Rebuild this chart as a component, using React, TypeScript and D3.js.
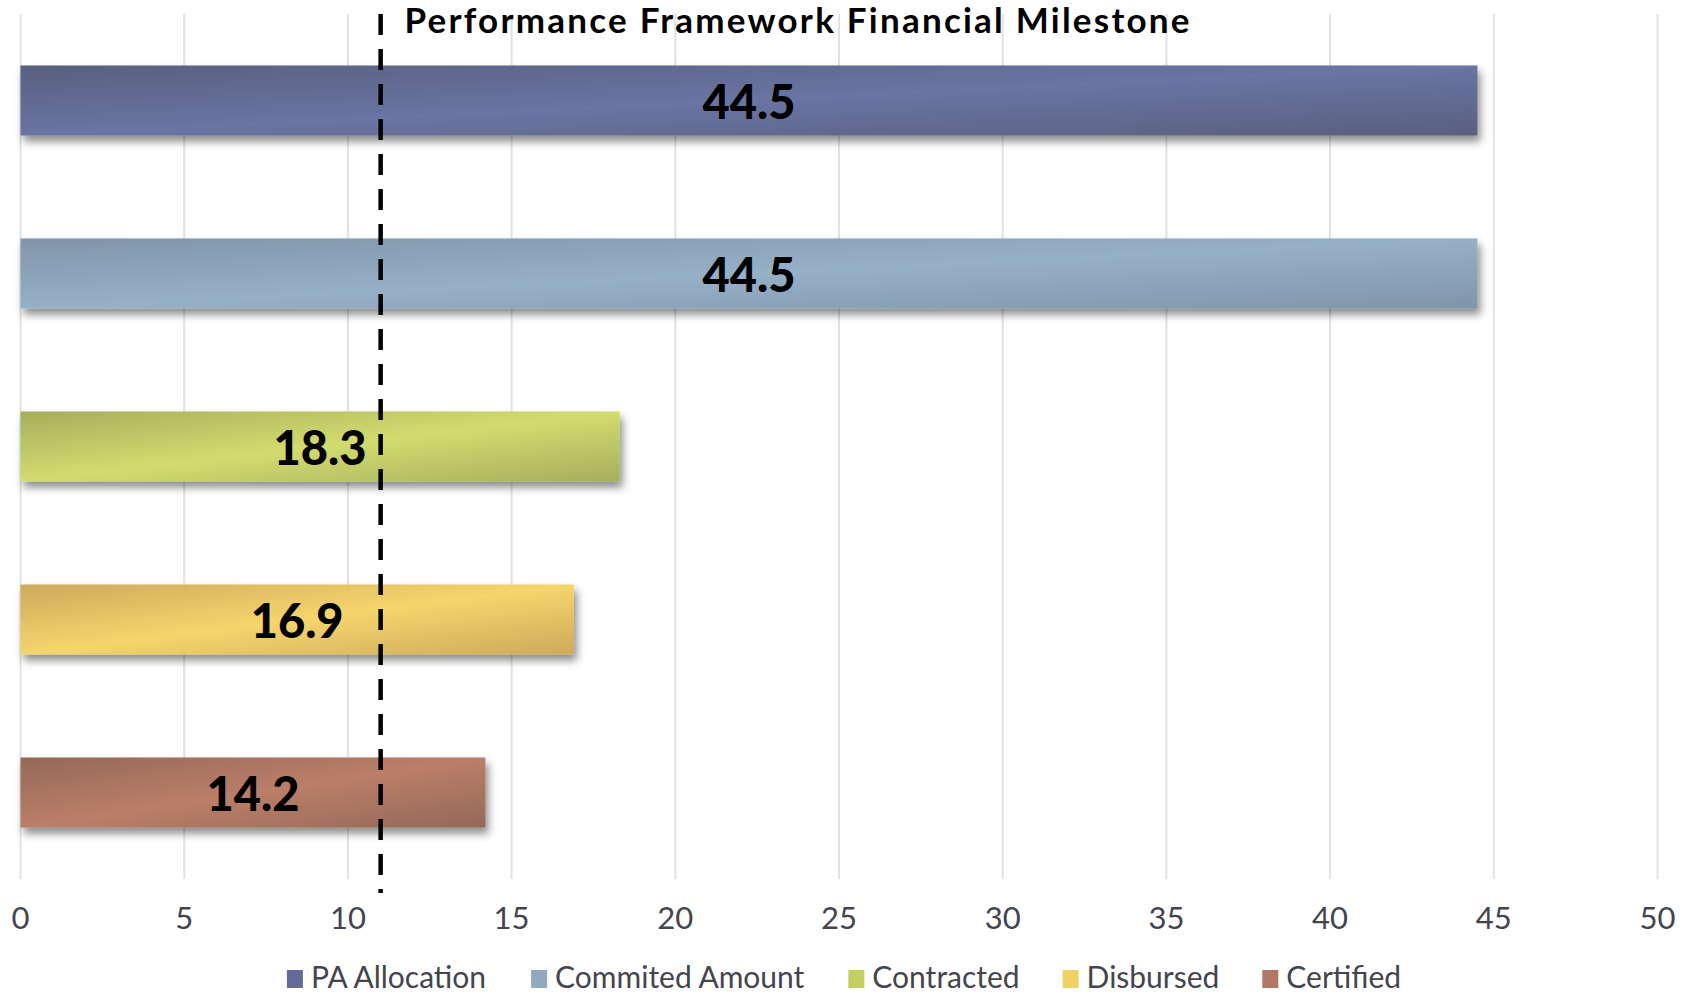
import React, { useMemo } from "react";
import * as d3 from "d3";

const categories = ["PA Allocation", "Commited Amount", "Contracted", "Disbursed", "Certified"];
const values = [44.5, 44.5, 18.3, 16.9, 14.2];
const xTicks = [0, 5, 10, 15, 20, 25, 30, 35, 40, 45, 50];
const milestone = 11;
const title = "Performance Framework Financial Milestone";
const lightColors = ["#6a74a3", "#96b0c8", "#d2dc6e", "#f5d56c", "#bb7e68"];
const darkColors = ["#59607f", "#7f95a9", "#a6ae5e", "#cdaa5c", "#946958"];
const legendColors = ["#636b98", "#90a9be", "#c3d060", "#f0d264", "#b27866"];

const W = 1690;
const H = 1001;
const FONT = "Lato, 'Open Sans', sans-serif";

function measure(text: string, font: string): number {
  const c = document.createElement("canvas");
  const ctx = c.getContext("2d");
  if (!ctx) return text.length * 14;
  ctx.font = font;
  return ctx.measureText(text).width;
}

export default function App() {
  const x = d3.scaleLinear().domain([0, 50]).range([20.5, 1657.5]);
  const y = d3.scaleBand<string>().domain(categories).range([14, 879]).paddingInner(0.595).paddingOuter(0.2975);

  const legendFontSize = 30;
  const legendLayout = useMemo(() => {
    const sq = 16;
    const gapText = 8;
    const gapItem = 43;
    const widths = categories.map((c) => measure(c, `${legendFontSize}px ${FONT}`));
    const total = widths.reduce((a, w) => a + sq + gapText + w, 0) + gapItem * (categories.length - 1);
    let cx = 844 - total / 2;
    return widths.map((w) => {
      const pos = cx;
      cx += sq + gapText + w + gapItem;
      return pos;
    });
  }, []);

  return (
    <svg width={W} height={H} style={{ position: "fixed", left: 0, top: 0, background: "#fff" }}>
      <defs>
        <filter id="shadow" x="-5%" y="-20%" width="115%" height="160%">
          <feDropShadow dx="3" dy="6" stdDeviation="4" floodColor="#000" floodOpacity="0.45" />
        </filter>
        {categories.map((c, i) => (
          <linearGradient key={c} id={`g${i}`} x1="0" y1="0" x2="1" y2="1">
            <stop offset="0%" stopColor={darkColors[i]} />
            <stop offset="50%" stopColor={lightColors[i]} />
            <stop offset="100%" stopColor={darkColors[i]} />
          </linearGradient>
        ))}
      </defs>

      {/* gridlines */}
      {xTicks.map((t) => (
        <line key={t} x1={x(t)} x2={x(t)} y1={14} y2={879} stroke="#e2e2e6" strokeWidth={2} />
      ))}

      {/* bars */}
      {categories.map((c, i) => (
        <rect
          key={c}
          x={x(0)}
          y={y(c)}
          width={x(values[i]) - x(0)}
          height={y.bandwidth()}
          fill={`url(#g${i})`}
          filter="url(#shadow)"
        />
      ))}

      {/* milestone dashed line */}
      <line
        x1={x(milestone)}
        x2={x(milestone)}
        y1={14}
        y2={893}
        stroke="#000"
        strokeWidth={4.5}
        strokeDasharray="21 14"
      />

      {/* bar labels */}
      {categories.map((c, i) => (
        <text
          key={c}
          x={(x(0) + x(values[i])) / 2}
          y={(y(c) as number) + y.bandwidth() / 2 + 18}
          textAnchor="middle"
          fontFamily={FONT}
          fontWeight={900}
          fontSize={47}
          fill="#000"
        >
          {values[i]}
        </text>
      ))}

      {/* title */}
      <text
        x={797}
        y={33}
        textAnchor="middle"
        fontFamily={FONT}
        fontWeight={700}
        fontSize={35}
        fill="#000"
        textLength={785}
        lengthAdjust="spacing"
      >
        {title}
      </text>

      {/* x-axis labels */}
      {xTicks.map((t) => (
        <text key={t} x={x(t)} y={929} textAnchor="middle" fontFamily={FONT} fontSize={31} fill="#44444f">
          {t}
        </text>
      ))}

      {/* legend */}
      {categories.map((c, i) => (
        <g key={c} transform={`translate(${legendLayout[i]},0)`}>
          <rect x={0} y={970} width={16} height={18} fill={legendColors[i]} />
          <text x={24} y={988} fontFamily={FONT} fontSize={legendFontSize} fill="#44444f">
            {c}
          </text>
        </g>
      ))}
    </svg>
  );
}
